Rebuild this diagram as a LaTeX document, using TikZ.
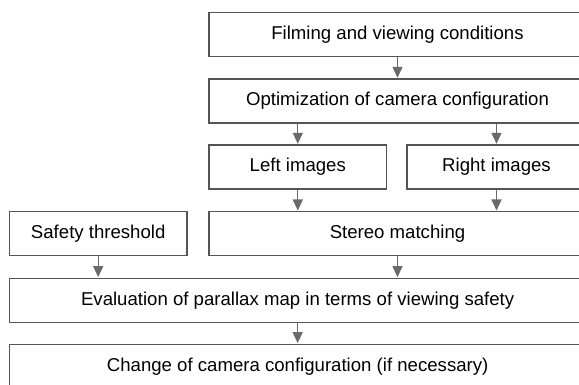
\documentclass[tikz,border=0pt]{standalone}
\usepackage{fontspec}
\setmainfont{Liberation Sans}
\usetikzlibrary{arrows.meta}
\definecolor{boxline}{HTML}{555555}
\definecolor{arrowc}{HTML}{6A6A6A}
\begin{document}
\begin{tikzpicture}[x=1pt,y=1pt,
  box/.style={draw=boxline, line width=1.2pt, fill=white, minimum height=44pt,
    inner sep=0pt, font=\fontsize{18.6}{22}\selectfont, text=black},
  arr/.style={draw=arrowc, line width=1.2pt, -{Triangle[width=10pt,length=11pt]}, shorten >=0.6pt}]
\useasboundingbox (0,0) rectangle (579,385);
\clip (0,0) rectangle (579,385);
\fill[white] (0,0) rectangle (579,385);
\node[box, minimum width=377pt] (film) at (397.5,350.3) {Filming and viewing conditions};
\node[box, minimum width=377pt] (opt) at (397.5,284) {Optimization of camera configuration};
\node[box, minimum width=177.6pt] (left) at (297.8,218) {Left images};
\node[box, minimum width=179pt] (right) at (496.5,218) {Right images};
\node[box, minimum width=177.7pt] (safe) at (98.2,151.3) {Safety threshold};
\node[box, minimum width=377pt] (stereo) at (397.5,151.3) {Stereo matching};
\node[box, minimum width=576.7pt] (eval) at (297.65,84.7) {Evaluation of parallax map in terms of viewing safety};
\node[box, minimum width=576.7pt] (change) at (297.65,18.7) {Change of camera configuration (if necessary)};
\draw[arr] (film.south) -- (opt.north);
\draw[arr] (opt.south -| left.north) -- (left.north);
\draw[arr] (opt.south -| right.north) -- (right.north);
\draw[arr] (left.south) -- (left.south |- stereo.north);
\draw[arr] (right.south) -- (right.south |- stereo.north);
\draw[arr] (safe.south) -- (safe.south |- eval.north);
\draw[arr] (stereo.south) -- (stereo.south |- eval.north);
\draw[arr] (eval.south) -- (change.north);
\end{tikzpicture}
\end{document}
